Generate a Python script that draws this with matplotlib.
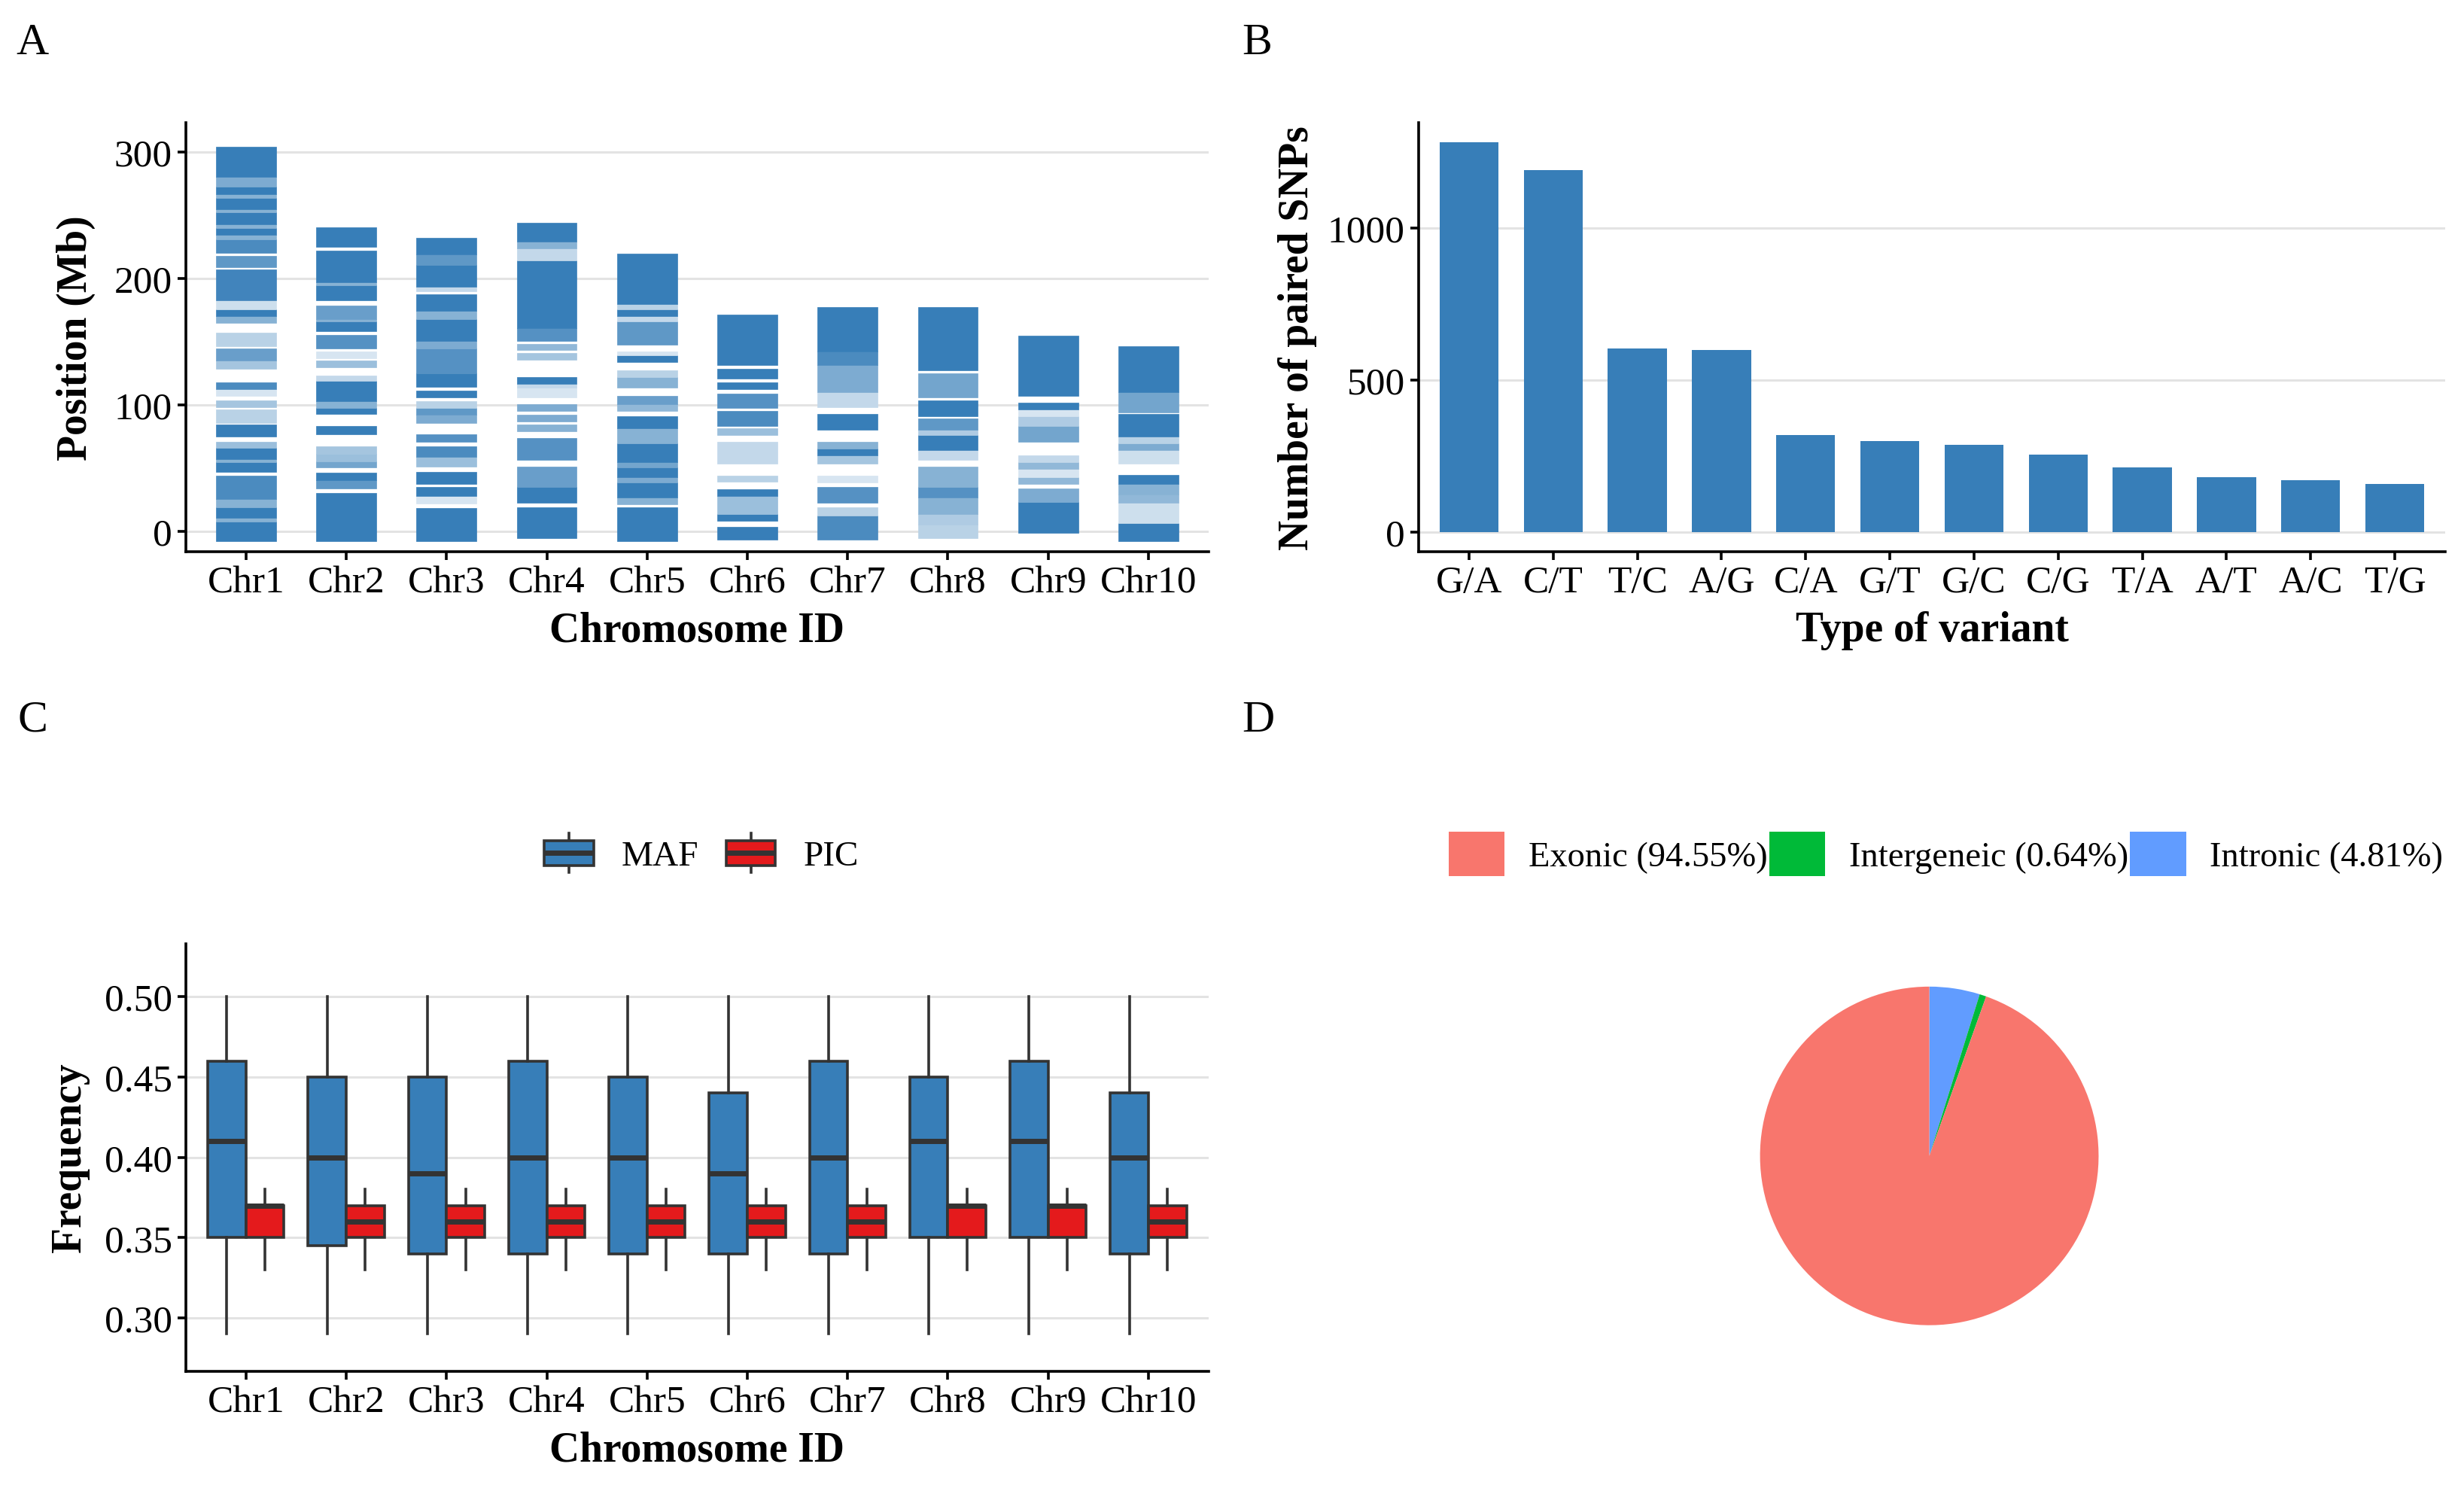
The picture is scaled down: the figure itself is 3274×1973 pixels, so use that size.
import matplotlib
matplotlib.use('Agg')
import matplotlib.pyplot as plt
from matplotlib.colors import to_rgb
from matplotlib.patches import Rectangle, Patch
from matplotlib.lines import Line2D
from matplotlib.legend_handler import HandlerBase

plt.rcParams['font.family'] = ['Liberation Serif', 'DejaVu Serif']

BLUE = '#377EB8'
RED = '#E41A1C'
EDGE = '#333333'

# ---- Panel A: SNP positions along chromosomes (band start, band end, shade) ----
chromosomes = ['Chr1', 'Chr2', 'Chr3', 'Chr4', 'Chr5', 'Chr6', 'Chr7', 'Chr8', 'Chr9', 'Chr10']

chr1_bands = [(-7.5, 7.5, 1), (7.5, 10.7, 0.6), (10.7, 19.3, 1), (19.3, 25.7, 0.6), (25.7, 43.9, 0.9),
              (47.1, 55, 1), (55, 57, 0.6), (57, 66.3, 1), (66.3, 70.6, 0.5), (74.9, 84.5, 1),
              (85.6, 96.3, 0.35), (98.4, 103.7, 0.45), (107, 112.3, 0.2), (112.3, 117.6, 0.9),
              (128.3, 134.8, 0.45), (134.8, 144.4, 0.75), (146.5, 157.2, 0.35), (164.7, 170, 0.6),
              (170, 175.4, 1), (175.4, 182.9, 0.25), (182.9, 207, 0.95), (208.6, 217.8, 0.8),
              (220.3, 231, 0.9), (231, 234.2, 0.6), (234.2, 239.6, 1), (239.6, 242.8, 0.6),
              (242.8, 252.4, 1), (252.4, 254.5, 0.6), (254.5, 263.7, 1), (263.7, 266.3, 0.6),
              (266.3, 272.7, 1), (272.7, 280.2, 0.65), (280.2, 303.7, 1)]
chr2_bands = [(-7.5, 30.6, 1), (34.2, 40.6, 0.8), (40.6, 46.4, 1), (50.3, 55.6, 0.7), (55.6, 61, 0.5),
              (61, 67.4, 0.45), (77, 83.4, 1), (93, 97.3, 1), (97.3, 102.7, 0.6), (102.7, 118.7, 1),
              (118.7, 123.4, 0.3), (129.8, 134.8, 0.5), (136.9, 142.2, 0.2), (144.4, 155.5, 0.85),
              (158.3, 165.8, 1), (165.8, 167.9, 0.6), (167.9, 178.2, 0.75), (182.9, 194.6, 1),
              (194.6, 196.8, 0.6), (196.8, 221.8, 1), (224.6, 240.6, 1)]
chr3_bands = [(-7.5, 18.2, 1), (22, 27.8, 0.2), (27.8, 35.3, 1), (37.4, 47.1, 1), (51.3, 58.8, 0.5),
              (58.8, 67.4, 0.9), (70.6, 77, 0.85), (85.6, 92, 0.65), (92, 97.3, 0.8), (97.3, 102.7, 0.35),
              (105.9, 111.2, 1), (114.4, 125.1, 1), (125.1, 144.4, 0.85), (144.4, 150.8, 0.65),
              (150.8, 167.9, 1), (167.9, 174.3, 0.6), (174.3, 187.2, 1), (189.7, 193.6, 0.3),
              (193.6, 210.7, 1), (210.7, 219.2, 0.8), (219.2, 232.1, 1)]
chr4_bands = [(-5.3, 19.3, 1), (22.5, 35.3, 1), (35.3, 51.3, 0.75), (56.7, 73.8, 0.85), (79.1, 84.5, 0.6),
              (86.6, 92, 0.65), (95.2, 100.5, 0.65), (105.9, 113.4, 0.2), (113.4, 116.6, 0.3),
              (116.6, 121.9, 1), (135.8, 141.2, 0.45), (143.3, 148.2, 0.55), (150.8, 160.4, 0.85),
              (160.4, 213.9, 1), (213.9, 223.5, 0.3), (223.5, 228.9, 0.6), (228.9, 243.8, 1)]
chr5_bands = [(-7.5, 19.3, 1), (21.4, 26.7, 0.6), (26.7, 38.5, 1), (38.5, 42.8, 0.65), (42.8, 50.3, 1),
              (50.3, 54.5, 0.7), (54.5, 69.5, 1), (69.5, 81.3, 0.6), (81.3, 90.9, 1), (95.2, 100.5, 0.55),
              (100.5, 107, 0.75), (113.4, 121.9, 0.6), (121.9, 127.3, 0.35), (133.7, 139, 1),
              (139, 142.2, 0.2), (147.6, 165.8, 0.8), (165.8, 170, 0.3), (170, 175.4, 1),
              (175.4, 179.7, 0.35), (179.7, 219.7, 1)]
chr6_bands = [(-6.8, 3.6, 1), (8.6, 13.9, 1), (13.9, 27.8, 0.5), (27.8, 33.2, 1), (39.1, 43.9, 0.35),
              (53.5, 70.6, 0.3), (75.9, 81.3, 0.5), (83.4, 95.2, 0.9), (97.3, 109.1, 0.85),
              (112.3, 117.6, 1), (120.9, 128.3, 1), (131.5, 171.1, 1)]
chr7_bands = [(-6.4, 12.8, 0.9), (12.8, 19.3, 0.35), (22.5, 35.3, 0.85), (38.5, 43.9, 0.2),
              (53.5, 59.9, 0.45), (59.9, 65.2, 1), (65.2, 70.6, 0.6), (80.2, 93, 1), (98.4, 110.2, 0.3),
              (110.2, 131.5, 0.65), (131.5, 142.2, 0.9), (142.2, 177.3, 1)]
chr8_bands = [(-5.3, 5.3, 0.35), (5.3, 13.9, 0.4), (13.9, 26.7, 0.6), (26.7, 35.3, 0.85), (35.3, 51.3, 0.6),
              (56.7, 64.2, 0.3), (64.2, 75.9, 1), (75.9, 80.2, 0.4), (80.2, 89.2, 0.8), (90.9, 103.7, 1),
              (105.9, 125.1, 0.7), (127.3, 177.5, 1)]
chr9_bands = [(-1.1, 23.5, 1), (23.5, 34.2, 0.65), (37.4, 42.8, 0.55), (42.8, 49.2, 0.2), (49.2, 54.5, 0.55),
              (54.5, 59.9, 0.3), (70.6, 83.4, 0.7), (83.4, 90.9, 0.4), (90.9, 96.3, 0.2), (96.3, 101.6, 1),
              (107, 154.4, 1)]
chr10_bands = [(-7.5, 6.4, 1), (6.4, 22.5, 0.25), (22.5, 28.9, 0.55), (28.9, 37.4, 0.6), (37.4, 44.9, 1),
               (53.5, 64.2, 0.25), (64.2, 69.5, 0.65), (69.5, 74.9, 0.35), (74.9, 92.6, 1),
               (94.1, 110.2, 0.7), (110.2, 146.5, 1)]
chr_bands = [chr1_bands, chr2_bands, chr3_bands, chr4_bands, chr5_bands,
             chr6_bands, chr7_bands, chr8_bands, chr9_bands, chr10_bands]

# ---- Panel B: variant types ----
variant_types = ['G/A', 'C/T', 'T/C', 'A/G', 'C/A', 'G/T', 'G/C', 'C/G', 'T/A', 'A/T', 'A/C', 'T/G']
variant_counts = [1282, 1189, 603, 599, 319, 299, 288, 256, 213, 181, 170, 158]

# ---- Panel C: MAF / PIC summary per chromosome ----
maf_low = [0.29] * 10
maf_q1 = [0.35, 0.345, 0.34, 0.34, 0.34, 0.34, 0.34, 0.35, 0.35, 0.34]
maf_med = [0.41, 0.40, 0.39, 0.40, 0.40, 0.39, 0.40, 0.41, 0.41, 0.40]
maf_q3 = [0.46, 0.45, 0.45, 0.46, 0.45, 0.44, 0.46, 0.45, 0.46, 0.44]
maf_high = [0.50] * 10
pic_low = [0.33] * 10
pic_q1 = [0.35] * 10
pic_med = [0.37, 0.36, 0.36, 0.36, 0.36, 0.36, 0.36, 0.37, 0.37, 0.36]
pic_q3 = [0.37] * 10
pic_high = [0.38] * 10

# ---- Panel D: genomic location ----
regions = ['Exonic', 'Intergeneic', 'Intronic']
region_pct = [94.55, 0.64, 4.81]
region_colors = ['#F8766D', '#00BA38', '#619CFF']

TICK_SIZE = 37
TITLE_SIZE = 40


def style_axes(ax):
    for s in ['top', 'right']:
        ax.spines[s].set_visible(False)
    for s in ['left', 'bottom']:
        ax.spines[s].set_linewidth(2.6)
    ax.tick_params(axis='both', length=8, width=2.6, labelsize=TICK_SIZE, pad=5)
    ax.yaxis.grid(True, color='#E3E3E3', linewidth=2.2)
    ax.set_axisbelow(True)


def shade_of(color, k):
    # blend with white -> opaque tint, so neighbouring bands can overlap without seams
    r, g, b = to_rgb(color)
    return (1 - k + k * r, 1 - k + k * g, 1 - k + k * b)


class BoxKey(HandlerBase):
    def create_artists(self, legend, orig_handle, xdescent, ydescent, width, height, fontsize, trans):
        fc = orig_handle.get_facecolor()
        x0, y0 = -xdescent, -ydescent
        xm = x0 + 0.5 * width
        w1 = Line2D([xm, xm], [y0 + 0.1 * height, y0 + 0.25 * height], color=EDGE, linewidth=2.6, transform=trans)
        w2 = Line2D([xm, xm], [y0 + 0.75 * height, y0 + 0.9 * height], color=EDGE, linewidth=2.6, transform=trans)
        box = Rectangle((x0 + 0.125 * width, y0 + 0.25 * height), 0.75 * width, 0.5 * height,
                        facecolor=fc, edgecolor=EDGE, linewidth=2.6, transform=trans)
        med = Line2D([x0 + 0.125 * width, x0 + 0.875 * width], [y0 + 0.5 * height] * 2, color=EDGE,
                     linewidth=5, solid_capstyle='butt', transform=trans)
        return [w1, w2, box, med]


fig = plt.figure(figsize=(32.74, 19.74), dpi=100)

# Panel A
axA = fig.add_axes([0.0754, 0.6282, 0.4151, 0.2887])
style_axes(axA)
for i, bands in enumerate(chr_bands):
    lows = [b[0] for b in bands]
    heights = [b[1] - b[0] for b in bands]
    cols = [shade_of(BLUE, b[2]) for b in bands]
    axA.bar([i + 1] * len(bands), heights, bottom=lows, width=0.6, color=cols,
            edgecolor=cols, linewidth=0.5)
axA.set_xticks(range(1, len(chromosomes) + 1), chromosomes)
axA.set_yticks([0, 100, 200, 300])
axA.set_xlim(0.4, 10.6)
axA.set_ylim(-16, 323)
axA.set_xlabel('Chromosome ID', fontsize=TITLE_SIZE, fontweight='bold', labelpad=10)
axA.set_ylabel('Position (Mb)', fontsize=TITLE_SIZE, fontweight='bold', labelpad=18)

# Panel B
axB = fig.add_axes([0.5757, 0.6282, 0.4167, 0.2887])
style_axes(axB)
xb = range(1, len(variant_types) + 1)
axB.bar(xb, variant_counts, width=0.7, color=BLUE, linewidth=0)
axB.set_xticks(xb, variant_types)
axB.set_yticks([0, 500, 1000])
axB.set_xlim(0.4, 12.6)
axB.set_ylim(-64, 1346)
axB.set_xlabel('Type of variant', fontsize=TITLE_SIZE, fontweight='bold', labelpad=10)
axB.set_ylabel('Number of paired SNPs', fontsize=TITLE_SIZE, fontweight='bold', labelpad=10)

# Panel C
axC = fig.add_axes([0.0754, 0.0767, 0.4151, 0.2877])
style_axes(axC)
xc = list(range(1, len(chromosomes) + 1))
maf_stats = [dict(whislo=a, q1=b, med=c, q3=d, whishi=e, fliers=[])
             for a, b, c, d, e in zip(maf_low, maf_q1, maf_med, maf_q3, maf_high)]
pic_stats = [dict(whislo=a, q1=b, med=c, q3=d, whishi=e, fliers=[])
             for a, b, c, d, e in zip(pic_low, pic_q1, pic_med, pic_q3, pic_high)]
for stats, color, off in [(maf_stats, BLUE, -0.19), (pic_stats, RED, 0.19)]:
    axC.bxp(stats, positions=[x + off for x in xc], widths=0.38, patch_artist=True,
            showfliers=False, showcaps=False, manage_ticks=False,
            boxprops=dict(facecolor=color, edgecolor=EDGE, linewidth=2.6),
            medianprops=dict(color=EDGE, linewidth=5, solid_capstyle='butt'),
            whiskerprops=dict(color=EDGE, linewidth=2.6))
axC.set_xticks(xc, chromosomes)
axC.set_yticks([0.30, 0.35, 0.40, 0.45, 0.50], ['0.30', '0.35', '0.40', '0.45', '0.50'])
axC.set_xlim(0.4, 10.6)
axC.set_ylim(0.267, 0.533)
axC.set_xlabel('Chromosome ID', fontsize=TITLE_SIZE, fontweight='bold', labelpad=10)
axC.set_ylabel('Frequency', fontsize=TITLE_SIZE, fontweight='bold', labelpad=14)
axC.legend(handles=[Patch(facecolor=BLUE, label='MAF'), Patch(facecolor=RED, label='PIC')],
           handler_map={Patch: BoxKey()}, loc='center', bbox_to_anchor=(0.5, 1.212), ncol=2,
           frameon=False, fontsize=34, handlelength=1.85, handleheight=1.75,
           handletextpad=0.55, columnspacing=0.55, borderpad=0)

# Panel D
axD = fig.add_axes([0.7143, 0.1075, 0.1374, 0.228])
order = [2, 1, 0]
axD.pie([region_pct[k] for k in order], colors=[region_colors[k] for k in order],
        startangle=90, counterclock=False, wedgeprops=dict(linewidth=0))
axD.set_aspect('equal')
axD.set_xlim(-1, 1)
axD.set_ylim(-1, 1)
axD.axis('off')
fig.legend(handles=[Patch(facecolor=c, edgecolor='none', label=f'{r} ({p:.2f}%)')
                    for r, p, c in zip(regions, region_pct, region_colors)],
           loc='center', bbox_to_anchor=(2585.5 / 3274, 1 - 1135.5 / 1974), ncol=3, frameon=False,
           fontsize=33.5, handlelength=1.6, handleheight=1.6, handletextpad=0.68,
           columnspacing=0.05, borderpad=0)

# panel letters
for letter, x, y in [('A', 21, 72), ('B', 1650, 72), ('C', 23, 972), ('D', 1650, 972)]:
    fig.text(x / 3274, 1 - y / 1974, letter, fontsize=43, ha='left', va='baseline')

fig.savefig('out.png', dpi=100)
